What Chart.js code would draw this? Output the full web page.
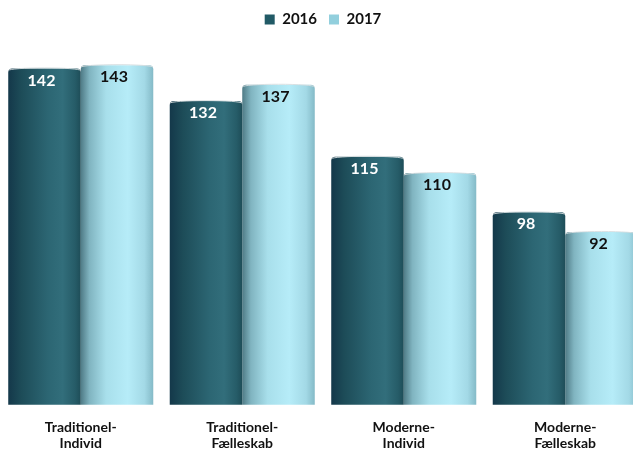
<!DOCTYPE html>
<html>
<head>
<meta charset="utf-8">
<script src="https://cdn.jsdelivr.net/npm/chart.js@4/dist/chart.umd.min.js"></script>
<style>
  html, body { margin:0; padding:0; background:#fff; overflow:hidden; }
  #wrap { width:633px; height:450px; overflow:hidden; position:relative; }
  #box { width:646px; height:466px; position:absolute; left:0; top:0; }
</style>
</head>
<body>
<div id="wrap"><div id="box"><canvas id="c"></canvas></div></div>
<script>
// ---- data ----
const categories = ["Traditionel-\nIndivid", "Traditionel-\nFælleskab", "Moderne-\nIndivid", "Moderne-\nFælleskab"];
const seriesNames = ["2016", "2017"];
const values2016 = [142, 132, 115, 98];
const values2017 = [143, 137, 110, 92];
const yRange = [39.2, 151.6];

// ---- styling ----
const FONT = "Lato, 'Open Sans', sans-serif";
const CAT_PCT = 0.898;
const stops2016 = [[0, "#14384a"], [0.18, "#1d4c58"], [0.55, "#2c6673"], [0.75, "#326e7b"], [0.92, "#265c68"], [1, "#1e4d58"]];
const stops2017 = [[0, "#4f7b86"], [0.12, "#80b4c0"], [0.35, "#a8dfeb"], [0.65, "#b6ecf8"], [0.88, "#a3d9e6"], [1, "#84bac7"]];
const legendColors = ["#215a66", "#92cfdd"];

function cylinder(stops, dsIndex) {
  return function(ctx) {
    const chart = ctx.chart;
    const xs = chart.scales && chart.scales.x;
    if (!chart.chartArea || !xs || ctx.dataIndex === undefined) return stops[3][1];
    const center = xs.getPixelForValue(ctx.dataIndex);
    const cat = xs.width / categories.length;
    const bw = cat * CAT_PCT / 2;
    const left = dsIndex === 0 ? center - bw : center;
    const g = chart.ctx.createLinearGradient(left, 0, left + bw, 0);
    stops.forEach(s => g.addColorStop(s[0], s[1]));
    return g;
  };
}

const valueLabels = {
  id: "valueLabels",
  afterDatasetsDraw(chart) {
    const c = chart.ctx;
    c.save();
    c.font = "bold 16px " + FONT;
    c.textAlign = "center";
    c.textBaseline = "middle";
    chart.data.datasets.forEach((ds, di) => {
      const meta = chart.getDatasetMeta(di);
      c.fillStyle = di === 0 ? "#ffffff" : "#111111";
      meta.data.forEach((el, i) => {
        c.fillText(String(ds.data[i]), el.x - 3, el.y + 12);
      });
    });
    c.restore();
  }
};

const topCaps = {
  id: "topCaps",
  afterDatasetsDraw(chart) {
    const c = chart.ctx;
    c.save();
    chart.data.datasets.forEach((ds, di) => {
      const meta = chart.getDatasetMeta(di);
      meta.data.forEach((el) => {
        const w = el.width;
        c.beginPath();
        c.ellipse(el.x, el.y + 2, w / 2 - 0.5, 2.5, 0, Math.PI, 2 * Math.PI);
        c.strokeStyle = "rgba(215,222,224,0.9)";
        c.lineWidth = 1;
        c.stroke();
      });
    });
    c.restore();
  }
};

const mkDs = (label, data, stops, idx) => ({
  label,
  data,
  backgroundColor: cylinder(stops, idx),
  borderWidth: 0,
  borderRadius: { topLeft: 4, topRight: 4, bottomLeft: 7, bottomRight: 7 },
  borderSkipped: false,
  categoryPercentage: CAT_PCT,
  barPercentage: 1.0
});

new Chart(document.getElementById("c"), {
  type: "bar",
  data: {
    labels: categories.map(c => c.split("\n")),
    datasets: [
      mkDs(seriesNames[0], values2016, stops2016, 0),
      mkDs(seriesNames[1], values2017, stops2017, 1)
    ]
  },
  options: {
    responsive: true,
    maintainAspectRatio: false,
    animation: false,
    layout: { padding: 0 },
    plugins: {
      tooltip: { enabled: false },
      legend: {
        position: "top",
        align: "center",
        labels: {
          boxWidth: 10,
          boxHeight: 10,
          padding: 12,
          color: "#111",
          font: { family: FONT, size: 15, weight: "bold" },
          generateLabels(chart) {
            return chart.data.datasets.map((ds, i) => ({
              text: ds.label,
              fillStyle: legendColors[i],
              strokeStyle: legendColors[i],
              lineWidth: 0,
              fontColor: "#111",
              datasetIndex: i,
              hidden: false
            }));
          }
        }
      }
    },
    scales: {
      x: {
        offset: true,
        grid: { display: false, drawTicks: false },
        border: { display: false },
        ticks: {
          padding: 14,
          color: "#111",
          font: { family: FONT, size: 14, weight: "bold", lineHeight: 1.19 },
          maxRotation: 0,
          autoSkip: false
        }
      },
      y: {
        display: false,
        min: yRange[0],
        max: yRange[1]
      }
    }
  },
  plugins: [topCaps, valueLabels]
});
</script>
</body>
</html>
